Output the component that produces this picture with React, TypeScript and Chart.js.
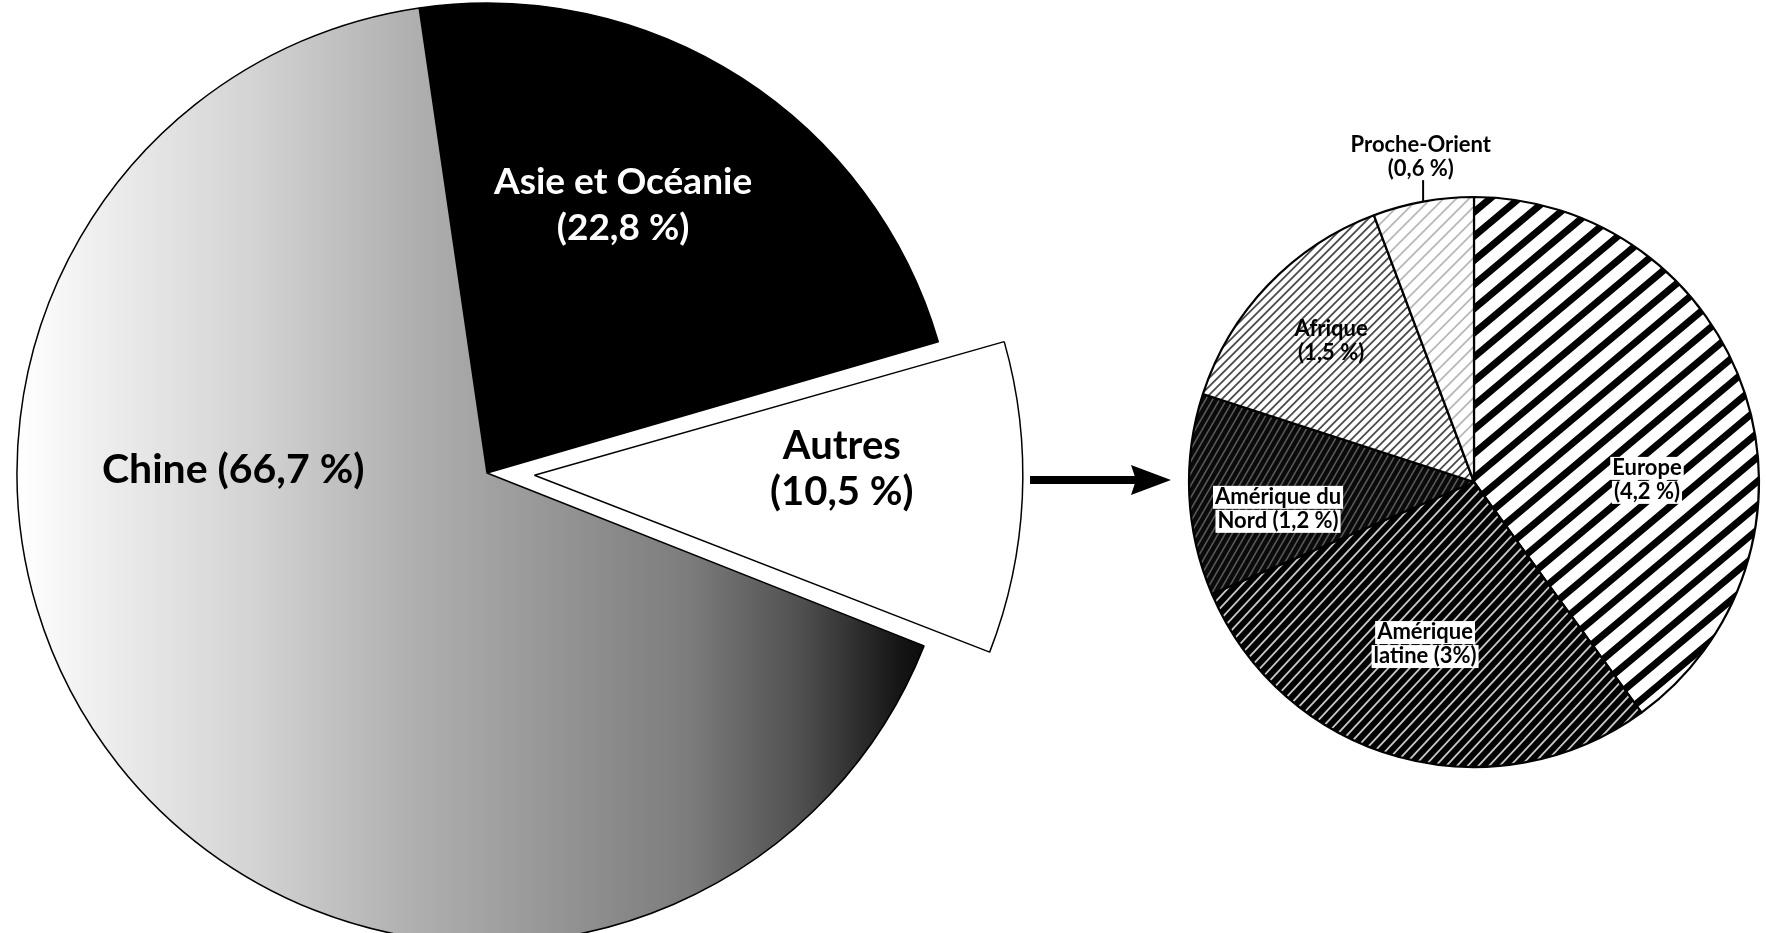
import React, { useEffect, useRef } from "react";
import { Chart, registerables } from "chart.js";

Chart.register(...registerables);

// ---------------- data ----------------
const mainCategories = ["Asie et Océanie", "Autres", "Chine"];
const mainShares = [22.8, 10.5, 66.7];
const mainLabelLines = [["Asie et Océanie", "(22,8 %)"], ["Autres", "(10,5 %)"], ["Chine (66,7 %)"]];

const otherCategories = ["Europe", "Amérique latine", "Amérique du Nord", "Afrique", "Proche-Orient"];
const otherShares = [4.2, 3, 1.2, 1.5, 0.6];
const otherLabelLines = [
  ["Europe", "(4,2 %)"],
  ["Amérique", "latine (3%)"],
  ["Amérique du", "Nord (1,2 %)"],
  ["Afrique", "(1,5 %)"],
  ["Proche-Orient", "(0,6 %)"],
];

// ---------------- layout & style ----------------
const W = 1766;
const H = 933;
const MAIN = { cx: 487, cy: 473, r: 470, rotation: -8.3, explode: 190 };
const SUB = { cx: 1474, cy: 482, r: 285 };
const SMALL_FONT = "bold 22px Lato";
const BIG_LH = 46;
const SMALL_LH = 24;

// label anchor: [angle from top (deg, clockwise), fraction of radius]
const mainLabelPos: [number, number][] = [[26.9, 0.64], [89.4, 0.755], [270.7, 0.54]];
const mainLabelColors = ["#ffffff", "#000000", "#000000"];
const mainLabelFonts = ["bold 37px Lato", "bold 40px Lato", "bold 41px Lato"];
const subLabelPos: [number, number][] = [[89.3, 0.607], [196.8, 0.594], [262.2, 0.694], [314.6, 0.704], [350.7, 1.155]];
const subLabelBox = [true, true, true, false, false];

function stripePattern(
  ctx: CanvasRenderingContext2D,
  bg: string,
  fg: string,
  angleDeg: number,
  period: number,
  lineW: number
) {
  const c = document.createElement("canvas");
  c.width = W;
  c.height = H;
  const g = c.getContext("2d")!;
  g.fillStyle = bg;
  g.fillRect(0, 0, W, H);
  g.strokeStyle = fg;
  g.lineWidth = lineW;
  const a = (angleDeg * Math.PI) / 180;
  const dx = Math.cos(a);
  const dy = -Math.sin(a);
  const nx = Math.sin(a);
  const ny = Math.cos(a);
  const diag = Math.hypot(W, H);
  const n = Math.ceil(diag / period);
  for (let k = -n; k <= n; k++) {
    const px = W / 2 + nx * k * period;
    const py = H / 2 + ny * k * period;
    g.beginPath();
    g.moveTo(px - dx * diag, py - dy * diag);
    g.lineTo(px + dx * diag, py + dy * diag);
    g.stroke();
  }
  return ctx.createPattern(c, "no-repeat")!;
}

export default function App() {
  const mainRef = useRef<HTMLCanvasElement>(null);
  const subRef = useRef<HTMLCanvasElement>(null);

  useEffect(() => {
    document.body.style.margin = "0";
    const c1 = mainRef.current!;
    const c2 = subRef.current!;
    const ctx1 = c1.getContext("2d")!;
    const ctx2 = c2.getContext("2d")!;

    const x0 = MAIN.cx - MAIN.r;
    const x1 = MAIN.cx + MAIN.r;
    const grad = ctx1.createLinearGradient(x0, 0, x1, 0);
    const stops: [number, string][] = [
      [17, "#ffffff"],
      [100, "#eeeeee"],
      [250, "#d4d4d4"],
      [400, "#b2b2b2"],
      [487, "#a2a2a2"],
      [690, "#7c7c7c"],
      [800, "#505050"],
      [900, "#151515"],
      [957, "#000000"],
    ];
    stops.forEach(([x, col]) => grad.addColorStop(Math.min(1, Math.max(0, (x - x0) / (x1 - x0))), col));

    const mainLabelPlugin = {
      id: "mainLabels",
      afterDraw(chart: any) {
        const g: CanvasRenderingContext2D = chart.ctx;
        g.save();
        g.textAlign = "center";
        g.textBaseline = "middle";
        mainLabelLines.forEach((lines, i) => {
          const [angDeg, frac] = mainLabelPos[i];
          const ang = (angDeg * Math.PI) / 180;
          const x = MAIN.cx + Math.sin(ang) * frac * MAIN.r;
          const y = MAIN.cy - Math.cos(ang) * frac * MAIN.r;
          g.font = mainLabelFonts[i];
          g.fillStyle = mainLabelColors[i];
          lines.forEach((t, k) => g.fillText(t, x, y + (k - (lines.length - 1) / 2) * BIG_LH));
        });
        // arrow from the exploded slice to the detail pie
        const ay = MAIN.cy + 7;
        const sx = 1030;
        const tip = SUB.cx - SUB.r - 18;
        g.fillStyle = "#000";
        g.fillRect(sx, ay - 4, tip - 34 - sx, 8);
        g.beginPath();
        g.moveTo(tip, ay);
        g.lineTo(tip - 40, ay - 15);
        g.lineTo(tip - 35, ay);
        g.lineTo(tip - 40, ay + 15);
        g.closePath();
        g.fill();
        g.restore();
      },
    };

    const subLabelPlugin = {
      id: "subLabels",
      afterDraw(chart: any) {
        const g: CanvasRenderingContext2D = chart.ctx;
        const arcs = chart.getDatasetMeta(0).data as any[];
        g.save();
        g.font = SMALL_FONT;
        g.textAlign = "center";
        g.textBaseline = "middle";
        otherLabelLines.forEach((lines, i) => {
          const a = arcs[i];
          const [angDeg, frac] = subLabelPos[i];
          const ang = (angDeg * Math.PI) / 180;
          const x = a.x + Math.sin(ang) * frac * a.outerRadius;
          const y = a.y - Math.cos(ang) * frac * a.outerRadius;
          lines.forEach((t, k) => {
            const ly = y + (k - (lines.length - 1) / 2) * SMALL_LH;
            if (subLabelBox[i]) {
              const w = g.measureText(t).width + 4;
              g.fillStyle = "#ffffff";
              g.fillRect(x - w / 2, ly - SMALL_LH / 2 + 1, w, SMALL_LH - 1);
            }
            g.fillStyle = "#000000";
            g.fillText(t, x, ly);
          });
          if (frac > 1) {
            // leader line from slice edge to outside label
            const mid = (a.startAngle + a.endAngle) / 2;
            const ex = a.x + Math.cos(mid) * a.outerRadius;
            const ey = a.y + Math.sin(mid) * a.outerRadius;
            const bottom = y + ((lines.length - 1) / 2) * SMALL_LH + SMALL_LH / 2 - 1;
            g.strokeStyle = "#000";
            g.lineWidth = 2;
            g.beginPath();
            g.moveTo(ex, ey);
            g.lineTo(ex, bottom);
            g.stroke();
          }
        });
        g.restore();
      },
    };

    const chart1 = new Chart(c1, {
      type: "pie",
      data: {
        labels: mainCategories,
        datasets: [
          {
            data: mainShares,
            backgroundColor: ["#000000", "#ffffff", grad],
            borderColor: "#000000",
            borderWidth: 1.5,
            offset: [0, MAIN.explode, 0],
            radius: MAIN.r,
            rotation: MAIN.rotation,
            clip: false,
          } as any,
        ],
      },
      options: {
        animation: false,
        responsive: false,
        events: [],
        layout: { padding: { left: 0, right: W - 2 * MAIN.cx, top: 2 * MAIN.cy - H, bottom: 0 } },
        plugins: { legend: { display: false }, tooltip: { enabled: false } },
      } as any,
      plugins: [mainLabelPlugin],
    });

    const subPatterns = [
      stripePattern(ctx2, "#ffffff", "#000000", 40, 18.5, 7),
      stripePattern(ctx2, "#000000", "#c8c8c8", 47, 7.8, 1.8),
      stripePattern(ctx2, "#0a0a0a", "#585858", 60, 6, 1.6),
      stripePattern(ctx2, "#ffffff", "#4a4a4a", 45, 6, 1.8),
      stripePattern(ctx2, "#ffffff", "#b8b8b8", 45, 9, 1.8),
    ];
    const half = SUB.r + 7;
    const chart2 = new Chart(c2, {
      type: "pie",
      data: {
        labels: otherCategories,
        datasets: [
          {
            data: otherShares,
            backgroundColor: subPatterns,
            borderColor: "#000000",
            borderWidth: 2.2,
            radius: SUB.r,
            rotation: 0,
            clip: false,
          } as any,
        ],
      },
      options: {
        animation: false,
        responsive: false,
        events: [],
        layout: {
          padding: {
            left: SUB.cx - half,
            right: W - (SUB.cx + half),
            top: SUB.cy - half,
            bottom: H - (SUB.cy + half),
          },
        },
        plugins: { legend: { display: false }, tooltip: { enabled: false } },
      } as any,
      plugins: [subLabelPlugin],
    });

    return () => {
      chart1.destroy();
      chart2.destroy();
    };
  }, []);

  return (
    <div style={{ position: "absolute", left: 0, top: 0, width: W, height: H, overflow: "hidden", background: "#fff" }}>
      <canvas ref={mainRef} width={W} height={H} style={{ position: "absolute", left: 0, top: 0 }} />
      <canvas ref={subRef} width={W} height={H} style={{ position: "absolute", left: 0, top: 0 }} />
    </div>
  );
}
